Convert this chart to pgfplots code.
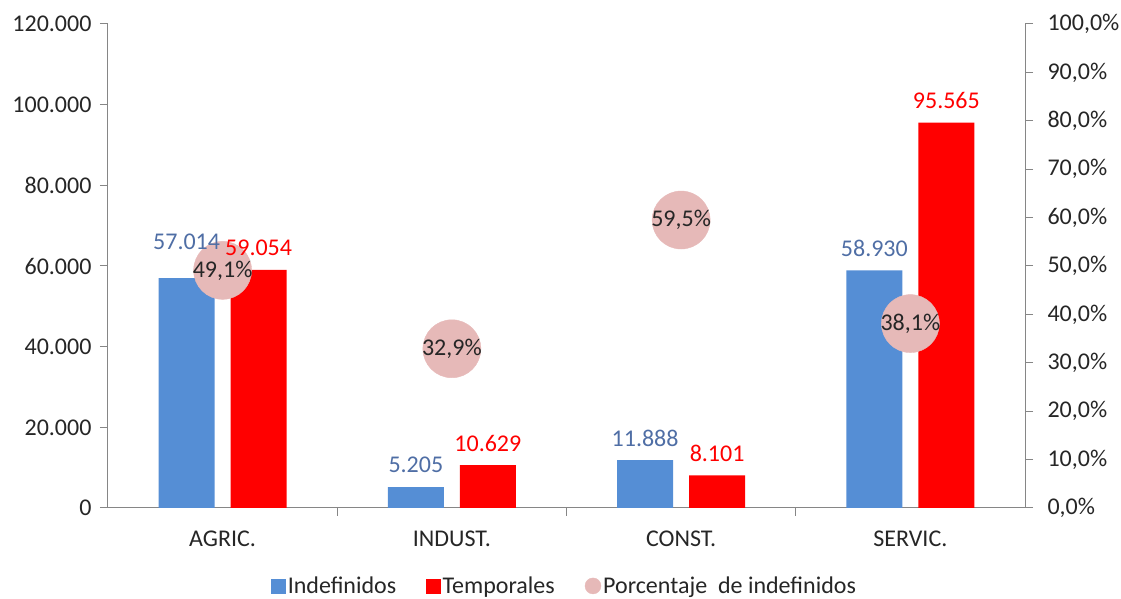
\documentclass[border=0pt]{standalone}
\usepackage{fontspec}
\setmainfont{Carlito}
\usepackage{pgfplots}
\pgfplotsset{compat=1.18}
\definecolor{barblue}{HTML}{558ED5}
\definecolor{barred}{HTML}{FF0000}
\definecolor{pinkc}{HTML}{E6B9B8}
\definecolor{axisgray}{HTML}{868686}
\definecolor{textc}{HTML}{262626}
\definecolor{lblblue}{HTML}{4F6EA5}
\begin{document}
\begin{tikzpicture}
\useasboundingbox (-108pt,-91pt) rectangle (1013pt,508pt);
\pgfplotsset{
  base/.style={
    scale only axis, width=917pt, height=484pt,
    xmin=-0.5, xmax=3.5,
    font=\fontsize{24}{28}\selectfont,
    tick label style={text=textc},
    axis line style={-, draw=axisgray, line width=1pt},
    tick align=outside, major tick length=8pt, minor tick length=8pt,
    scaled y ticks=false,
  }
}
% bars
\begin{axis}[base, ymin=0, ymax=120000,
  axis x line*=bottom, axis y line*=left,
  xtick={0,1,2,3}, xticklabels={AGRIC.,INDUST.,CONST.,SERVIC.},
  minor xtick={0.5,1.5,2.5},
  major x tick style={draw=none},
  minor x tick style={draw=axisgray, line width=1pt},
  ytick={0,20000,40000,60000,80000,100000,120000},
  yticklabels={0,20.000,40.000,60.000,80.000,100.000,120.000},
  y tick style={draw=axisgray, line width=1pt},
  xticklabel style={yshift=-11pt},
  yticklabel style={xshift=-5pt},
]
\addplot[ybar, bar width=56pt, bar shift=-36pt, fill=barblue, draw=none]
  coordinates {(0,57014) (1,5205) (2,11888) (3,58930)};
\addplot[ybar, bar width=56pt, bar shift=36pt, fill=barred, draw=none]
  coordinates {(0,59054) (1,10629) (2,8101) (3,95565)};
\end{axis}
% percentage circles
\begin{axis}[base, ymin=0, ymax=100,
  axis y line*=right, axis x line=none,
  ytick={0,10,...,100},
  yticklabels={{0,0\%},{10,0\%},{20,0\%},{30,0\%},{40,0\%},{50,0\%},{60,0\%},{70,0\%},{80,0\%},{90,0\%},{100,0\%}},
  y tick style={draw=axisgray, line width=1pt},
  yticklabel style={xshift=11pt},
]
\addplot[pinkc, only marks, mark=*, mark size=29pt, mark options={fill=pinkc, draw=pinkc},
  nodes near coords, point meta=explicit symbolic,
  every node near coord/.append style={anchor=center, text=textc}]
  coordinates {(0,49.1)[49{,}1\%] (1,32.9)[32{,}9\%] (2,59.5)[59{,}5\%] (3,38.1)[38{,}1\%]};
\end{axis}
% value labels and legend
\begin{axis}[base, ymin=0, ymax=120000, hide axis,
  legend style={at={(0.498,-0.161)}, anchor=center, draw=none, fill=none,
    legend columns=3, text=textc, font=\fontsize{24}{28}\selectfont,
    /tikz/every even column/.append style={column sep=28pt}},
  legend cell align=left,
]
\addplot[draw=none, forget plot,
  nodes near coords, point meta=explicit symbolic,
  every node near coord/.append style={anchor=center, text=lblblue, xshift=-36pt, yshift=36pt}]
  coordinates {(0,57014)[57.014]};
\addplot[draw=none, forget plot,
  nodes near coords, point meta=explicit symbolic,
  every node near coord/.append style={anchor=center, text=lblblue, xshift=-36pt, yshift=22pt}]
  coordinates {(1,5205)[5.205] (2,11888)[11.888] (3,58930)[58.930]};
\addplot[draw=none, forget plot,
  nodes near coords, point meta=explicit symbolic,
  every node near coord/.append style={anchor=center, text=barred, xshift=36pt, yshift=22pt}]
  coordinates {(0,59054)[59.054] (1,10629)[10.629] (2,8101)[8.101] (3,95565)[95.565]};
\addlegendimage{legend image code/.code={\fill[barblue] (0pt,-7pt) rectangle (14pt,7pt);}}
\addlegendentry{Indefinidos}
\addlegendimage{legend image code/.code={\fill[barred] (0pt,-7pt) rectangle (14pt,7pt);}}
\addlegendentry{Temporales}
\addlegendimage{legend image code/.code={\fill[pinkc] (7pt,0pt) circle (8pt);}}
\addlegendentry{Porcentaje\ \ de indefinidos}
\end{axis}
\end{tikzpicture}
\end{document}
